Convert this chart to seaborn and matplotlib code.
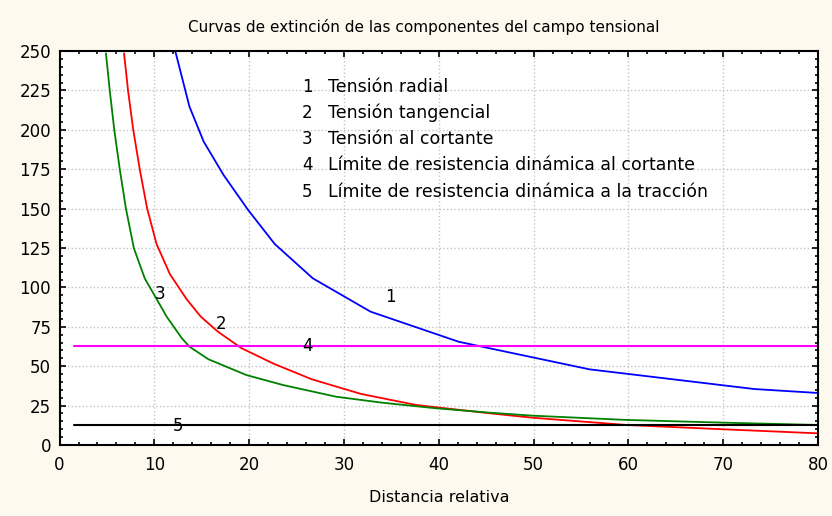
import matplotlib
matplotlib.use("Agg")
import matplotlib.pyplot as plt
import seaborn as sns
from matplotlib.ticker import MultipleLocator

# curve 1: tensión radial
radial_x = [12.2, 13.7, 15.2, 17.3, 19.9, 22.7, 26.7, 32.8, 42.1, 55.9, 73.3, 80.0]
radial_y = [250, 214.7, 192.5, 171.3, 149, 127.5, 105.8, 84.6, 65.5, 48, 35.5, 33]

# curve 2: tensión tangencial
tang_x = [6.8, 7.24, 7.77, 8.47, 9.24, 10.23, 11.63, 13.4, 14.9, 16.7, 19.2, 22.5,
          26.6, 31.8, 37.6, 45.4, 49.9, 59.8, 69.9, 80.0]
tang_y = [248.5, 224, 200, 174.5, 150, 127.5, 108.5, 92.5, 81.4, 71.9, 61.4, 51.8,
          41.7, 32.4, 25.4, 20.1, 17.3, 12.7, 10, 7.4]

# curve 3: tensión al cortante
cort_x = [4.89, 5.31, 5.77, 6.36, 7.0, 7.84, 9.0, 10.2, 11.3, 12.9, 13.7, 15.7,
          19.7, 23.6, 29.2, 34.1, 39.7, 45.4, 49.9, 59.8, 69.9, 80.0]
cort_y = [248.5, 224, 200, 174.5, 150, 124.8, 105.5, 93, 81.4, 67.7, 62.4, 54.4,
          44.4, 38, 30.6, 26.8, 23.3, 20.5, 18.6, 15.9, 14.2, 12.7]

# limits 4 and 5 (horizontal)
lim_x = [1.5, 80.0]
lim_cortante = 62.5
lim_traccion = 12.5

legend_items = ["Tensión radial", "Tensión tangencial", "Tensión al cortante",
                "Límite de resistencia dinámica al cortante",
                "Límite de resistencia dinámica a la tracción"]

curve_labels = ["1", "2", "3", "4", "5"]
label_pos = [(34.9, 94), (17.0, 76.8), (10.6, 95.8), (26.2, 62.8), (12.5, 12)]

sns.set_style("ticks")
plt.rcParams["font.family"] = ["DejaVu Sans"]
plt.rcParams["text.color"] = "black"
plt.rcParams["xtick.color"] = "black"
plt.rcParams["ytick.color"] = "black"

bg = "#fdf9ef"
fig = plt.figure(figsize=(8.32, 5.16), dpi=100, facecolor=bg)
ax = fig.add_axes([0.0716, 0.1376, 0.9116, 0.7636])
ax.set_facecolor("white")

sns.lineplot(x=radial_x, y=radial_y, color="#0000ff", lw=1.3, sort=False, ax=ax)
sns.lineplot(x=tang_x, y=tang_y, color="#ff0000", lw=1.3, sort=False, ax=ax)
sns.lineplot(x=cort_x, y=cort_y, color="#008000", lw=1.3, sort=False, ax=ax)
sns.lineplot(x=lim_x, y=[lim_cortante] * 2, color="#ff00ff", lw=1.5, ax=ax)
sns.lineplot(x=lim_x, y=[lim_traccion] * 2, color="black", lw=1.5, ax=ax)

for lab, (lx, ly) in zip(curve_labels, label_pos):
    ax.text(lx, ly, lab, fontsize=12, ha="center", va="center")

for i, item in enumerate(legend_items):
    yy = 227.3 - i * 16.65
    ax.text(26.1, yy, str(i + 1), fontsize=12, ha="center", va="center")
    ax.text(28.3, yy, item, fontsize=12.5, ha="left", va="center")

ax.set_xlim(0, 80)
ax.set_ylim(0, 250)
ax.xaxis.set_major_locator(MultipleLocator(10))
ax.xaxis.set_minor_locator(MultipleLocator(2))
ax.yaxis.set_major_locator(MultipleLocator(25))
ax.yaxis.set_minor_locator(MultipleLocator(5))
ax.grid(True, which="major", ls=":", color="#c4c4c4", lw=1.0)
ax.tick_params(which="both", direction="in", top=True, right=True,
               labeltop=False, labelright=False, width=1.2, color="black",
               labelcolor="black")
ax.tick_params(which="major", length=4, labelsize=12)
ax.tick_params(axis="y", which="major", pad=6)
ax.tick_params(axis="x", which="major", pad=8)
ax.tick_params(which="minor", length=2.5)
for s in ax.spines.values():
    s.set_linewidth(1.5)
    s.set_color("black")

fig.text(424 / 832, 1 - 27 / 516, "Curvas de extinción de las componentes del campo tensional",
         fontsize=11, ha="center", va="center")
fig.text(439 / 832, 1 - 497 / 516, "Distancia relativa", fontsize=11.5,
         ha="center", va="center")

fig.savefig("out.png", dpi=100, facecolor=bg)
